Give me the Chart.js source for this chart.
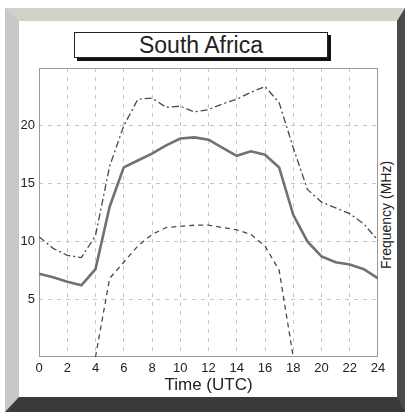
<!DOCTYPE html>
<html>
<head>
<meta charset="utf-8">
<script src="https://cdn.jsdelivr.net/npm/chart.js@4"></script>
<style>
  body { margin: 0; background: #fff; font-family: "Liberation Sans", Arial, sans-serif; }
  #wrap { position: relative; width: 409px; height: 414px; overflow: hidden; }
  #frame {
    position: absolute; left: 5px; top: 8px; width: 378px; height: 376px;
    background: #fff;
    border-top: 13px solid #d2d2ca;
    border-left: 14px solid #c8c8c6;
    border-right: 8px solid #4a4a4a;
    border-bottom: 15px solid #3a3a3a;
  }
  #titlebox {
    position: absolute; left: 74px; top: 32px; width: 252px; height: 24px;
    border: 1px solid #222; background: #fff;
    box-shadow: 3px 3px 0 #111;
    text-align: center; font-size: 23px; line-height: 25px; color: #222;
  }
  #ytitle {
    position: absolute; left: 386px; top: 215px;
    transform: translate(-50%, -50%) rotate(-90deg);
    white-space: nowrap; font-size: 14px; color: #222;
  }
  canvas { position: absolute; left: 0; top: 0; }
</style>
</head>
<body>
<div id="wrap">
  <div id="frame"></div>
  <div id="titlebox">South Africa</div>
  <div id="ytitle">Frequency (MHz)</div>
  <canvas id="chart" width="409" height="414"></canvas>
</div>
<script>
// Stunden (UTC)
var hours = [0,1,2,3,4,5,6,7,8,9,10,11,12,13,14,15,16,17,18,19,20,21,22,23,24];
// obere Kurve (strichpunktiert)
var upper = [10.4,9.4,8.8,8.6,10.5,16.5,20.0,22.3,22.4,21.6,21.7,21.2,21.4,21.9,22.3,22.9,23.4,22.0,18.1,14.5,13.4,12.9,12.4,11.5,10.1];
// mittlere Kurve (durchgezogen)
var middle = [7.2,6.9,6.5,6.2,7.6,13.0,16.4,17.0,17.6,18.3,18.9,19.0,18.8,18.1,17.4,17.8,17.5,16.4,12.3,10.0,8.7,8.2,8.0,7.6,6.8];
// untere Kurve (gestrichelt)
var lower = [null,null,null,null,0,6.8,8.2,9.6,10.6,11.2,11.3,11.4,11.4,11.2,11.0,10.6,9.6,7.5,0,null,null,null,null,null,null];

var xTicks = [0,2,4,6,8,10,12,14,16,18,20,22,24];
var yTicks = [5,10,15,20];

function pts(arr) {
  return hours.map(function (h, i) { return { x: h, y: arr[i] }; });
}

// Rahmen um den Plotbereich
var plotFrame = {
  id: 'plotFrame',
  beforeDatasetsDraw: function (chart) {
    var a = chart.chartArea, c = chart.ctx;
    c.save();
    c.strokeStyle = '#9a9a9a';
    c.lineWidth = 1;
    c.strokeRect(a.left + 0.5, a.top + 0.5, a.right - a.left - 1, a.bottom - a.top - 1);
    c.restore();
  }
};

var ctx = document.getElementById('chart');
new Chart(ctx, {
  type: 'line',
  data: {
    datasets: [
      { label: 'upper', data: pts(upper), borderColor: '#4a4a4a', borderWidth: 1.3, borderDash: [7,3,2,3], pointRadius: 0, tension: 0 },
      { label: 'middle', data: pts(middle), borderColor: '#717171', borderWidth: 2.6, pointRadius: 0, tension: 0 },
      { label: 'lower', data: pts(lower), borderColor: '#4a4a4a', borderWidth: 1.3, borderDash: [5,4], pointRadius: 0, tension: 0, spanGaps: false }
    ]
  },
  options: {
    responsive: false,
    animation: false,
    devicePixelRatio: 1,
    layout: { padding: { left: 19, top: 68, right: 31, bottom: 17 } },
    plugins: { legend: { display: false }, tooltip: { enabled: false } },
    scales: {
      x: {
        type: 'linear', min: 0, max: 24,
        afterBuildTicks: function (s) { s.ticks = xTicks.map(function (v) { return { value: v }; }); },
        afterFit: function (s) { s.height = 40; },
        ticks: { padding: 4, color: '#222', font: { family: 'Liberation Sans', size: 13 }, maxRotation: 0, autoSkip: false },
        grid: {
          drawTicks: false,
          color: function (c) { return (c.tick && (c.tick.value === 0 || c.tick.value === 24)) ? 'rgba(0,0,0,0)' : '#c6c6c6'; }
        },
        border: { display: false, dash: [4,5] },
        title: { display: true, text: 'Time (UTC)', color: '#222', font: { family: 'Liberation Sans', size: 17 }, padding: { top: 0, bottom: 1 } }
      },
      y: {
        min: 0, max: 25,
        afterBuildTicks: function (s) { s.ticks = [0].concat(yTicks, [25]).map(function (v) { return { value: v }; }); },
        afterFit: function (s) { s.width = 20; },
        ticks: {
          padding: 4, color: '#222', font: { family: 'Liberation Sans', size: 13 },
          callback: function (v) { return yTicks.indexOf(v) >= 0 ? v : ''; }
        },
        grid: {
          drawTicks: false,
          color: function (c) { return (c.tick && (c.tick.value === 0 || c.tick.value === 25)) ? 'rgba(0,0,0,0)' : '#c6c6c6'; }
        },
        border: { display: false, dash: [4,5] }
      }
    }
  },
  plugins: [plotFrame]
});
</script>
</body>
</html>
